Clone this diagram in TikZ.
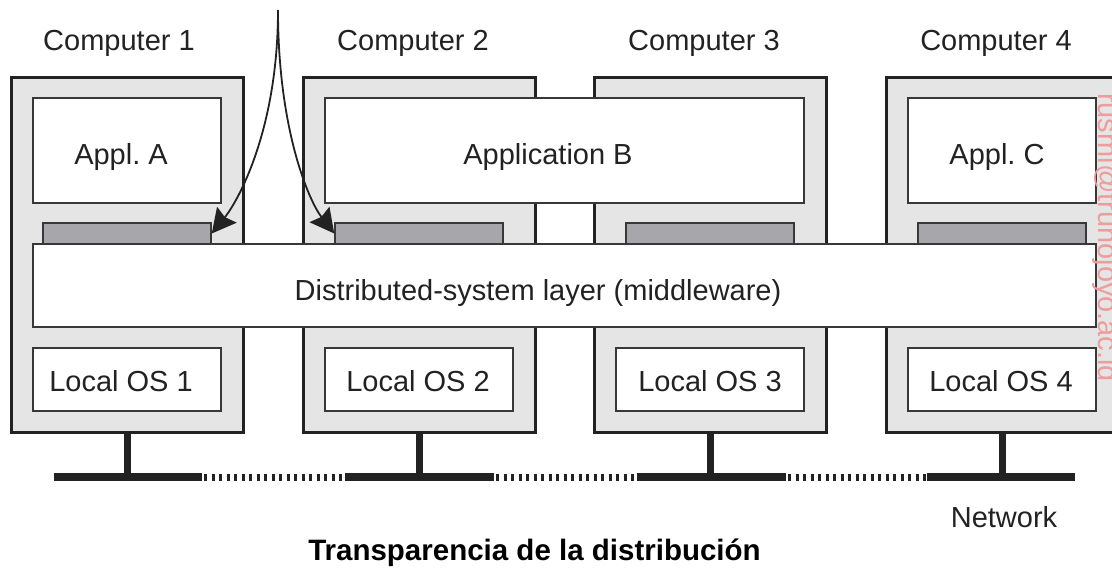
\documentclass[tikz,border=0pt]{standalone}
\usepackage{fontspec}
\setmainfont{Liberation Sans}
\usetikzlibrary{arrows.meta}
\frenchspacing
\definecolor{compfill}{HTML}{E5E5E5}
\definecolor{barfill}{HTML}{A7A7AB}
\definecolor{ink}{HTML}{222222}
\definecolor{wm}{HTML}{EE9C9C}
\newcommand{\mybox}[6]{\node[#6, minimum width={#4-#2}, minimum height={#5-#3}] (#1) at ({(#2+#4)/2},{(#3+#5)/2}) {};}
\newcommand{\lblfont}{\fontsize{29}{34}\selectfont}
\tikzset{
  x=1pt, y=-1pt,
  compbox/.style={draw=ink, line width=3pt, fill=compfill, inner sep=0pt, rectangle},
  innerbox/.style={draw=ink!90, line width=1.5pt, fill=white, inner sep=0pt, rectangle},
  barbox/.style={draw=ink!90, line width=1.5pt, fill=barfill, inner sep=0pt, rectangle},
  txt/.style={font=\lblfont, text=ink, anchor=base, inner sep=0pt},
  stem/.style={draw=ink, line width=7pt},
  netsolid/.style={draw=ink, line width=8pt},
  netdot/.style={draw=ink, line width=7pt, dash pattern=on 3pt off 4.5pt},
  arr/.style={draw=ink, line width=1.8pt, -{Stealth[length=24pt,width=25pt,inset=3pt]}}
}
\begin{document}
\begin{tikzpicture}
\useasboundingbox (0,0) rectangle (1112,568);
% computers
\mybox{c1}{11}{77}{243}{432}{compbox}
\mybox{c2}{303}{77}{535}{432}{compbox}
\mybox{c3}{594}{77}{826}{432}{compbox}
\mybox{c4}{886}{77}{1118}{432}{compbox}
% applications
\mybox{appa}{33}{98}{221}{203}{innerbox}
\mybox{appb}{325}{98}{804}{203}{innerbox}
\mybox{appc}{908}{98}{1096}{203}{innerbox}
% interface bars
\mybox{b1}{43}{223}{211}{244}{barbox}
\mybox{b2}{335}{223}{503}{244}{barbox}
\mybox{b3}{626}{223}{794}{244}{barbox}
\mybox{b4}{918}{223}{1086}{244}{barbox}
% middleware
\mybox{mw}{33}{244}{1096}{327}{innerbox}
% local OS
\mybox{os1}{33}{348}{221}{411}{innerbox}
\mybox{os2}{325}{348}{513}{411}{innerbox}
\mybox{os3}{616}{348}{804}{411}{innerbox}
\mybox{os4}{908}{348}{1096}{411}{innerbox}
% network
\coordinate (s1) at (127,477);
\coordinate (s2) at (419,477);
\coordinate (s3) at (710,477);
\coordinate (s4) at (1002,477);
\coordinate (n0) at (54,477);
\coordinate (n1) at (202,477);
\coordinate (n2) at (345,477);
\coordinate (n3) at (494,477);
\coordinate (n4) at (637,477);
\coordinate (n5) at (786,477);
\coordinate (n6) at (927,477);
\coordinate (n7) at (1075,477);
\draw[stem] (c1.south) -- (s1);
\draw[stem] (c2.south) -- (s2);
\draw[stem] (c3.south) -- (s3);
\draw[stem] (c4.south) -- (s4);
\draw[netsolid] (n0) -- (n1);
\draw[netsolid] (n2) -- (n3);
\draw[netsolid] (n4) -- (n5);
\draw[netsolid] (n6) -- (n7);
\draw[netdot] ([xshift=2pt]n1) -- (n2);
\draw[netdot] ([xshift=2pt]n3) -- (n4);
\draw[netdot] ([xshift=2pt]n5) -- (n6);
% texts
\node[txt] (t1) at (119,50) {Computer 1};
\node[txt] (t2) at (413,50) {Computer 2};
\node[txt] (t3) at (704,50) {Computer 3};
\node[txt] (t4) at (996,50) {Computer 4};
\node[txt] (ta) at (121,164) {Appl. A};
\node[txt] (tb) at (548,164) {Application B};
\node[txt] (tc) at (997,164) {Appl. C};
\node[txt] (tm) at (538,300) {Distributed-system layer (middleware)};
\node[txt] (to1) at (121,391) {Local OS 1};
\node[txt] (to2) at (418,391) {Local OS 2};
\node[txt] (to3) at (710,391) {Local OS 3};
\node[txt] (to4) at (1001,391) {Local OS 4};
\node[txt] (tn) at (1004,527) {Network};
\node[txt, font=\fontsize{29.5}{34}\selectfont\bfseries, text=black] (title) at (534.5,560) {Transparencia de la distribución};
% watermark
\node[font=\lblfont, text=wm, anchor=base west, inner sep=0pt, rotate=-90] (wmk) at (1098,93) {rusmi@trunojoyo.ac.id};
% arrows
\coordinate (src) at (278,10);
\draw[arr] (src) .. controls (278,130) and (238,201) .. (b1.east);
\draw[arr] (src) .. controls (278,130) and (309,201) .. (b2.west);
\end{tikzpicture}
\end{document}
